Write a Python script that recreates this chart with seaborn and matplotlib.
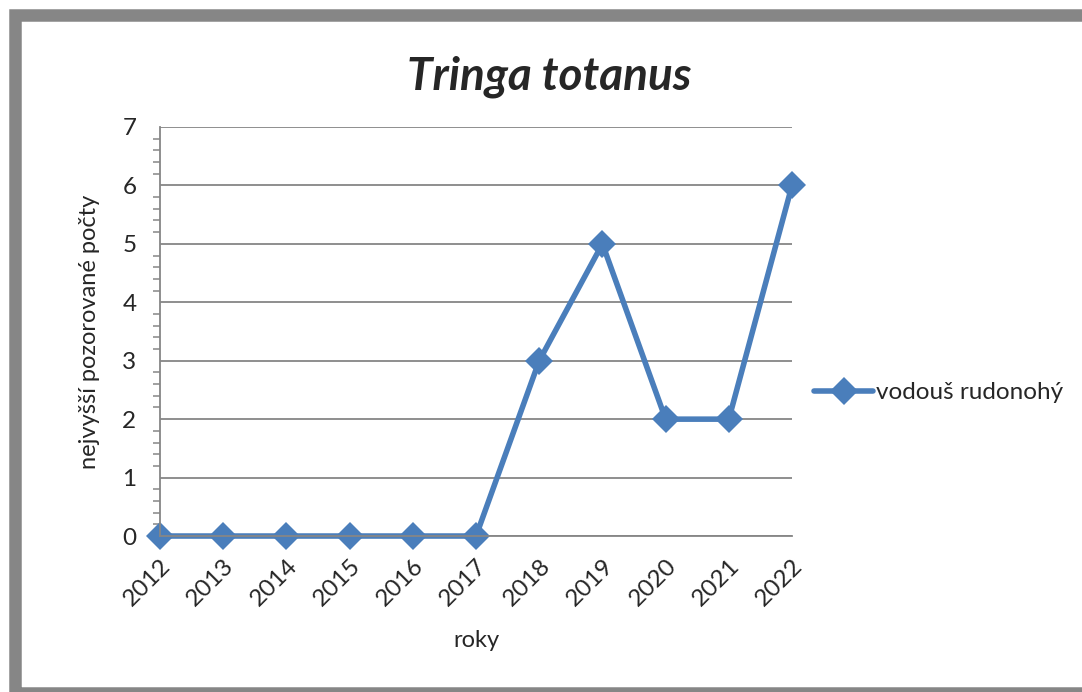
import matplotlib
matplotlib.use("Agg")
import matplotlib.pyplot as plt
import matplotlib.patches as mpatches
from matplotlib.ticker import MultipleLocator
import seaborn as sns
import pandas as pd

years = ["2012", "2013", "2014", "2015", "2016", "2017", "2018", "2019", "2020", "2021", "2022"]
counts = [0, 0, 0, 0, 0, 0, 3, 5, 2, 2, 6]
series_name = "vodouš rudonohý"

sns.set_style("white")
plt.rcParams["font.family"] = ["Lato", "DejaVu Sans"]

df = pd.DataFrame({"rok": years, "pocet": counts, "druh": series_name})

fig = plt.figure(figsize=(10.82, 6.92), dpi=100)
ax = fig.add_axes([0.1479, 0.2254, 0.5841, 0.5911])

blue = "#4A7EBB"
grey = "#868686"

sns.lineplot(data=df, x="rok", y="pocet", hue="druh", palette=[blue], marker="D",
             markersize=14, linewidth=4, markeredgewidth=0, ax=ax, clip_on=False,
             sort=False)

ax.set_xlim(0, len(years) - 1)
ax.set_ylim(0, 7)
ax.yaxis.set_major_locator(MultipleLocator(1))
ax.yaxis.set_minor_locator(MultipleLocator(0.2))
ax.grid(axis="y", color=grey, linewidth=1.3)
ax.set_axisbelow(True)
for s in ["top", "right"]:
    ax.spines[s].set_visible(False)
for s in ["left", "bottom"]:
    ax.spines[s].set_color(grey)
    ax.spines[s].set_linewidth(1.3)

ax.tick_params(axis="both", which="major", length=7, width=1.3, color=grey,
               labelsize=17.5, direction="out")
ax.tick_params(axis="y", which="minor", length=5, width=1.1, color=grey, left=True)
ax.tick_params(axis="y", which="major", pad=10)
ax.tick_params(axis="x", which="major", length=7, pad=7)
plt.setp(ax.get_xticklabels(), rotation=45, ha="right", rotation_mode="anchor")

ax.set_xlabel("roky", fontsize=17, labelpad=14)
ax.set_ylabel("nejvyšší pozorované počty", fontsize=17, labelpad=16)
fig.suptitle("Tringa totanus", x=0.508, y=0.92, fontsize=33, fontweight="bold",
             fontstyle="italic")

ax.legend(loc="center left", bbox_to_anchor=(1.02, 0.35), frameon=False, fontsize=17.5,
          handlelength=2.4, handletextpad=0.15, borderaxespad=0)

frame = mpatches.Rectangle((15 / 1082, -1 / 692), 1070 / 1082, 678 / 692,
                           transform=fig.transFigure, fill=False, edgecolor=grey,
                           linewidth=9, joinstyle="miter")
fig.patches.append(frame)

fig.savefig("out.png", dpi=100)
